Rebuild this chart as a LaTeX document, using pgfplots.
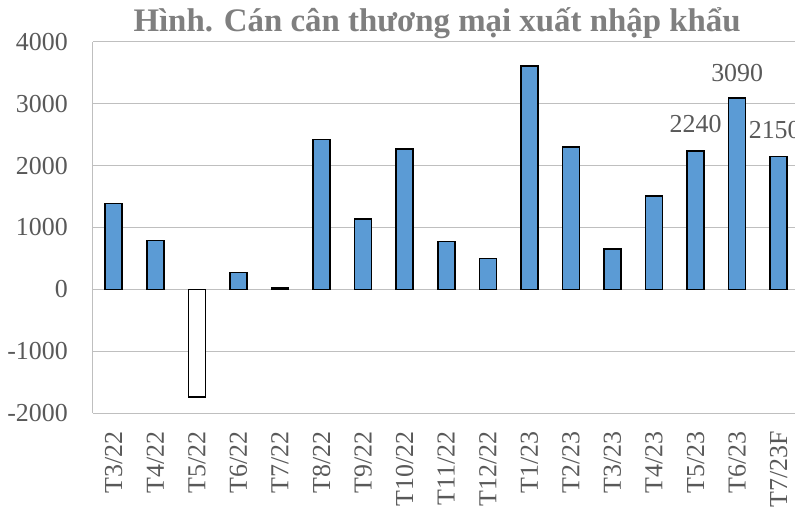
\documentclass[border=0pt]{standalone}
\usepackage{fontspec}
\setmainfont{Liberation Serif}
\usepackage{pgfplots}
\pgfplotsset{compat=1.18}
\definecolor{barblue}{HTML}{5B9BD5}
\definecolor{gridgray}{HTML}{BFBFBF}
\definecolor{txtgray}{HTML}{595959}
\definecolor{titlegray}{HTML}{7F7F7F}
\begin{document}
\begin{tikzpicture}
\begin{axis}[
  scale only axis, width=706.5bp, height=371bp,
  xmin=-0.5, xmax=16.5, ymin=-2000, ymax=4000,
  ytick={-2000,-1000,0,1000,2000,3000,4000},
  xtick={0,...,16},
  xticklabels={T3/22,T4/22,T5/22,T6/22,T7/22,T8/22,T9/22,T10/22,T11/22,T12/22,T1/23,T2/23,T3/23,T4/23,T5/23,T6/23,T7/23F},
  axis y line*=left, axis x line*=bottom,
  ymajorgrids, grid style={draw=gridgray, line width=1bp},
  axis line style={draw=gridgray, line width=1bp},
  major tick length=0pt,
  tick label style={font=\fontsize{26}{30}\selectfont, text=txtgray, inner sep=0pt},
  /pgf/number format/assume math mode=true,
  /pgf/number format/1000 sep={},
  yticklabel shift=25bp,
  xticklabel shift=18bp,
  xticklabel style={rotate=90, anchor=east},
  ybar, bar width=17bp, bar shift=0pt,
  clip=false,
]
\addplot[draw=black, line width=1.6bp, fill=barblue] coordinates {
 (0,1390) (1,790) (3,275) (4,18) (5,2425) (6,1135) (7,2265) (8,775) (9,500)
 (10,3610) (11,2300) (12,650) (13,1505) (14,2240) (15,3090) (16,2150)};
\addplot[draw=black, line width=1.6bp, fill=white] coordinates {(2,-1745)};
\node[anchor=base, text=txtgray, font=\fontsize{26}{30}\selectfont, inner sep=0pt] at (axis cs:14,2240) [yshift=18bp] {2240};
\node[anchor=base, text=txtgray, font=\fontsize{26}{30}\selectfont, inner sep=0pt] at (axis cs:15,3090) [yshift=17bp] {3090};
\node[anchor=base, text=txtgray, font=\fontsize{26}{30}\selectfont, inner sep=0pt] at (axis cs:16,2150) [yshift=18bp, xshift=-4bp] {2150};
\node[anchor=base, text=titlegray, font=\bfseries\fontsize{33}{36}\selectfont, inner sep=0pt] at (rel axis cs:0.487,1) [yshift=10bp] {Hình. Cán cân thương mại xuất nhập khẩu};
\end{axis}
\pgfresetboundingbox
\path[use as bounding box] (-93bp,-94bp) rectangle (702bp,413bp);
\end{tikzpicture}
\end{document}
